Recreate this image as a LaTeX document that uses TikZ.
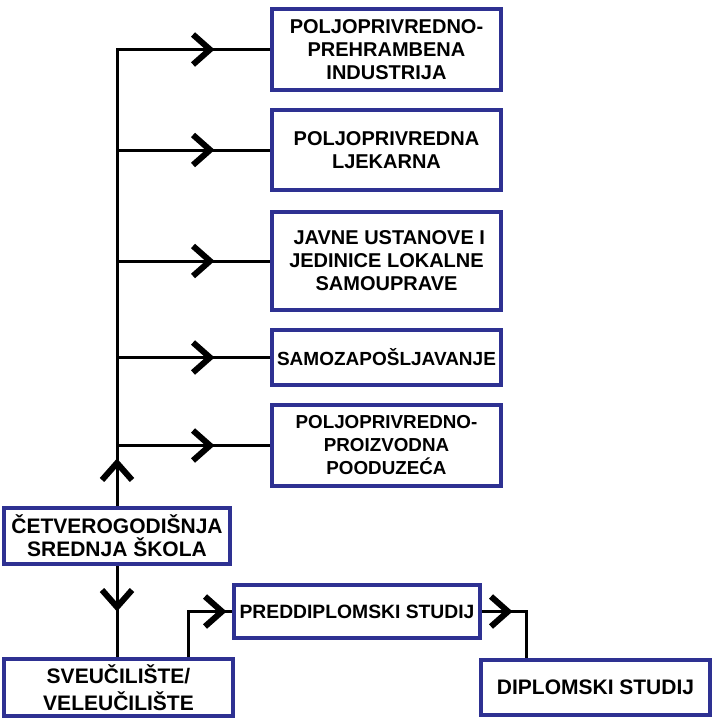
\documentclass[tikz,border=0pt]{standalone}
\usepackage{fontspec}
\setmainfont{Liberation Sans}
\usetikzlibrary{decorations.markings}
\definecolor{boxblue}{RGB}{46,49,146}
\newcommand\chevmark{\draw[line width=6pt, miter limit=10, line join=miter] (-17pt,-15pt) -- (0pt,0pt) -- (-17pt,15pt);}
\tikzset{
  box/.style={draw=boxblue, line width=4pt, fill=white, align=center, inner sep=0pt,
    font=\bfseries\fontsize{20}{23}\selectfont},
  bigtext/.style={font=\bfseries\fontsize{21}{27}\selectfont},
  conn/.style={line width=3pt, draw=black},
  chev/.style={postaction={decorate, decoration={markings, mark=at position #1 with {\chevmark}}}},
}
\begin{document}
\begin{tikzpicture}[x=1pt, y=-1pt]
\useasboundingbox (0,0) rectangle (719,723);
% top boxes
\node[box, minimum width=229pt, minimum height=81pt] (b1) at (386.5,49.5) {POLJOPRIVREDNO-\\PREHRAMBENA\\INDUSTRIJA};
\node[box, minimum width=229pt, minimum height=80pt] (b2) at (386.5,150) {POLJOPRIVREDNA\\LJEKARNA};
\node[box, minimum width=229pt, minimum height=98pt] (b3) at (386.5,261) {\ JAVNE USTANOVE I\\JEDINICE LOKALNE\\SAMOUPRAVE};
\node[box, minimum width=229pt, minimum height=55pt, font=\bfseries\fontsize{19}{23}\selectfont] (b4) at (386.5,357.5) {SAMOZAPOŠLJAVANJE};
\node[box, minimum width=229pt, minimum height=81pt, font=\bfseries\fontsize{18.8}{23}\selectfont] (b5) at (386.5,445.5) {POLJOPRIVREDNO-\\PROIZVODNA\\POODUZEĆA};
% left boxes
\node[box, bigtext, minimum width=226pt, minimum height=56pt, font=\bfseries\fontsize{21}{23}\selectfont] (cetv) at (117,536) {ČETVEROGODIŠNJA\\SREDNJA ŠKOLA};
\node[box, bigtext, minimum width=229pt, minimum height=57pt] (sveu) at (118.5,687.5) {SVEUČILIŠTE/\\VELEUČILIŠTE};
\node[box, minimum width=246pt, minimum height=53pt, font=\bfseries\fontsize{19.3}{23}\selectfont] (predd) at (357,611.5) {PREDDIPLOMSKI STUDIJ};
\node[box, bigtext, minimum width=229pt, minimum height=55pt] (dipl) at (595.5,687.5) {DIPLOMSKI STUDIJ};
% connectors
\draw[conn, chev=43pt, chev=549.5pt] (cetv.north) |- (b1.west);
\draw[conn, chev=93pt] (b2.west -| cetv.north) -- (b2.west);
\draw[conn, chev=93pt] (b3.west -| cetv.north) -- (b3.west);
\draw[conn, chev=93pt] (b4.west -| cetv.north) -- (b4.west);
\draw[conn, chev=93pt] (b5.west -| cetv.north) -- (b5.west);
\draw[conn, chev=41pt] (cetv.south) -- (cetv.south |- sveu.north);
\draw[conn, chev=79.5pt] ([xshift=69.5pt]sveu.north) |- (predd.west);
\draw[conn, chev=26pt] (predd.east) -| ([xshift=-69.5pt]dipl.north);
\end{tikzpicture}
\end{document}
